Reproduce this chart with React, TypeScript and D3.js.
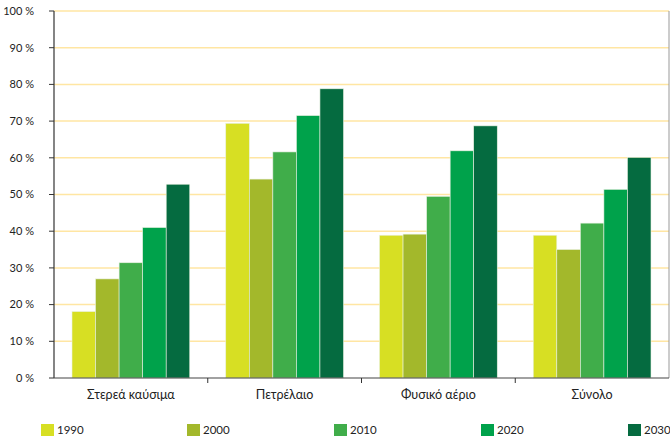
import React from "react";
import * as d3 from "d3";

const categories = ["Στερεά καύσιμα", "Πετρέλαιο", "Φυσικό αέριο", "Σύνολο"];
const years = ["1990", "2000", "2010", "2020", "2030"];
const v1990 = [18.1, 69.4, 38.9, 38.9];
const v2000 = [27.0, 54.2, 39.2, 35.0];
const v2010 = [31.4, 61.6, 49.5, 42.2];
const v2020 = [41.0, 71.5, 61.9, 51.4];
const v2030 = [52.8, 78.8, 68.7, 60.1];
const seriesValues = [v1990, v2000, v2010, v2020, v2030];
const colors = ["#D7DF23", "#A3B82B", "#40AD4A", "#00A24B", "#056B40"];
const yTicks = [0, 10, 20, 30, 40, 50, 60, 70, 80, 90, 100];

export default function App() {
  const W = 670, H = 443;
  const left = 54, right = 669, top = 11, bottom = 378;
  const x0 = d3.scaleBand().domain(categories).range([left, right]).paddingInner(0).paddingOuter(0);
  const groupPad = 18;
  const x1 = d3.scaleBand().domain(years).range([0, x0.bandwidth() - 2 * groupPad]).padding(0);
  const y = d3.scaleLinear().domain([0, 100]).range([bottom, top]);
  const font = "Lato, 'Open Sans', sans-serif";
  const legendX = [41, 187, 334, 481, 628];

  return (
    <svg width={W} height={H} style={{ position: "absolute", left: 0, top: 0 }} fontFamily={font}>
      <rect width={W} height={H} fill="#fff" />
      {yTicks.filter(t => t > 0).map(t => (
        <line key={t} x1={left} x2={right} y1={y(t)} y2={y(t)} stroke="#FFE6A3" strokeWidth={1.5} />
      ))}
      {categories.map((c, ci) => (
        <g key={c} transform={`translate(${x0(c)! + groupPad},0)`}>
          {years.map((yr, si) => {
            const v = seriesValues[si][ci];
            return (
              <rect key={yr} x={x1(yr)} y={y(v)} width={x1.bandwidth()} height={bottom - y(v)}
                fill={colors[si]} stroke="#e8f0e0" strokeWidth={0.6} />
            );
          })}
        </g>
      ))}
      <line x1={right} x2={right} y1={top} y2={bottom} stroke="#999" strokeWidth={1} />
      <line x1={left} x2={left} y1={top} y2={bottom} stroke="#333" strokeWidth={1.2} />
      <line x1={left} x2={right} y1={bottom} y2={bottom} stroke="#444" strokeWidth={1.2} />
      {yTicks.map(t => (
        <g key={t}>
          <line x1={left - 5} x2={left} y1={y(t)} y2={y(t)} stroke="#333" strokeWidth={1} />
          <text x={34} y={y(t)} dy="0.35em" textAnchor="end" fontSize={11} fill="#222">{`${t} %`}</text>
        </g>
      ))}
      {categories.map((c, i) => (
        <g key={c}>
          {i > 0 && <line x1={x0(c)} x2={x0(c)} y1={bottom} y2={bottom + 5} stroke="#333" />}
          <text x={x0(c)! + x0.bandwidth() / 2} y={395} dy="0.35em" textAnchor="middle" fontSize={12.5} fill="#222">{c}</text>
        </g>
      ))}
      {years.map((yr, i) => (
        <g key={yr} transform={`translate(${legendX[i]},424)`}>
          <rect width={13} height={12} fill={colors[i]} />
          <text x={16} y={6} dy="0.35em" fontSize={11.5} fill="#222">{yr}</text>
        </g>
      ))}
    </svg>
  );
}
